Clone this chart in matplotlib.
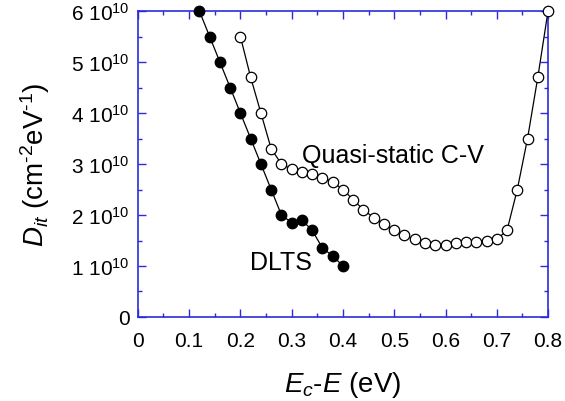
import numpy as np
import matplotlib
matplotlib.use("Agg")
import matplotlib.pyplot as plt
from matplotlib.ticker import MultipleLocator, FuncFormatter

# Data (Dit in units of 1e10 cm^-2 eV^-1)
dlts_e = [0.12, 0.14, 0.16, 0.18, 0.20, 0.22, 0.24, 0.26, 0.28, 0.30, 0.32, 0.34, 0.36, 0.38, 0.40]
dlts_d = [6.0, 5.5, 5.0, 4.5, 4.0, 3.5, 3.0, 2.5, 2.0, 1.85, 1.9, 1.7, 1.35, 1.2, 1.0]

qs_e = [0.20, 0.22, 0.24, 0.26, 0.28, 0.30, 0.32, 0.34, 0.36, 0.38, 0.40, 0.42, 0.44, 0.46,
        0.48, 0.50, 0.52, 0.54, 0.56, 0.58, 0.60, 0.62, 0.64, 0.66, 0.68, 0.70, 0.72, 0.74,
        0.76, 0.78, 0.80]
qs_d = [5.5, 4.7, 4.0, 3.3, 3.0, 2.9, 2.85, 2.8, 2.73, 2.65, 2.5, 2.3, 2.1, 1.95,
        1.82, 1.7, 1.6, 1.52, 1.45, 1.42, 1.42, 1.45, 1.47, 1.48, 1.5, 1.52, 1.7, 2.5,
        3.5, 4.7, 6.0]

plt.rcParams['font.family'] = ['Liberation Sans', 'DejaVu Sans']
plt.rcParams['mathtext.fontset'] = 'custom'
plt.rcParams['mathtext.rm'] = 'Liberation Sans'
plt.rcParams['mathtext.it'] = 'Liberation Sans:italic'

axis_col = '#2b2bdc'

fig = plt.figure(figsize=(5.65, 4.02), dpi=100)
ax = fig.add_axes([0.244, 0.209, 0.726, 0.761])

ax.plot(dlts_e, dlts_d, '-o', color='black', lw=0.9, markersize=7.5,
        markerfacecolor='black', markeredgecolor='black', clip_on=False, zorder=3)
ax.plot(qs_e, qs_d, '-o', color='black', lw=0.9, markersize=7.5,
        markerfacecolor='white', markeredgecolor='black', markeredgewidth=0.9,
        clip_on=False, zorder=3)

ax.text(0.32, 3.04, 'Quasi-static C-V', fontsize=18, va='baseline', ha='left')
ax.text(0.218, 0.94, 'DLTS', fontsize=18, va='baseline', ha='left')

ax.set_xlim(0, 0.8)
ax.set_ylim(0, 6)
ax.xaxis.set_major_locator(MultipleLocator(0.1))
ax.xaxis.set_minor_locator(MultipleLocator(0.05))
ax.yaxis.set_major_locator(MultipleLocator(1))
ax.yaxis.set_minor_locator(MultipleLocator(0.5))


def xfmt(v, pos):
    if abs(v) < 1e-9:
        return '0'
    return f'{v:.1f}'


def yfmt(v, pos):
    if abs(v) < 1e-9:
        return '0'
    return r'$%d\ 10^{10}$' % round(v)


ax.xaxis.set_major_formatter(FuncFormatter(xfmt))
ax.yaxis.set_major_formatter(FuncFormatter(yfmt))

for s in ax.spines.values():
    s.set_color(axis_col)
    s.set_linewidth(1.2)
ax.tick_params(which='both', direction='in', top=True, right=True, color=axis_col,
               labelsize=15, labelcolor='black')
ax.tick_params(which='major', length=6, width=1)
ax.tick_params(which='minor', length=3, width=1)
ax.tick_params(axis='x', pad=10)
ax.tick_params(axis='y', pad=6)

ax.set_xlabel(r'$E_c$-$E$ (eV)', fontsize=20, labelpad=14)
ax.set_ylabel(r'$D_{it}$ (cm$^{\text{-}2}$eV$^{\text{-}1}$)', fontsize=20, labelpad=14)

fig.savefig('out.png', dpi=100)
